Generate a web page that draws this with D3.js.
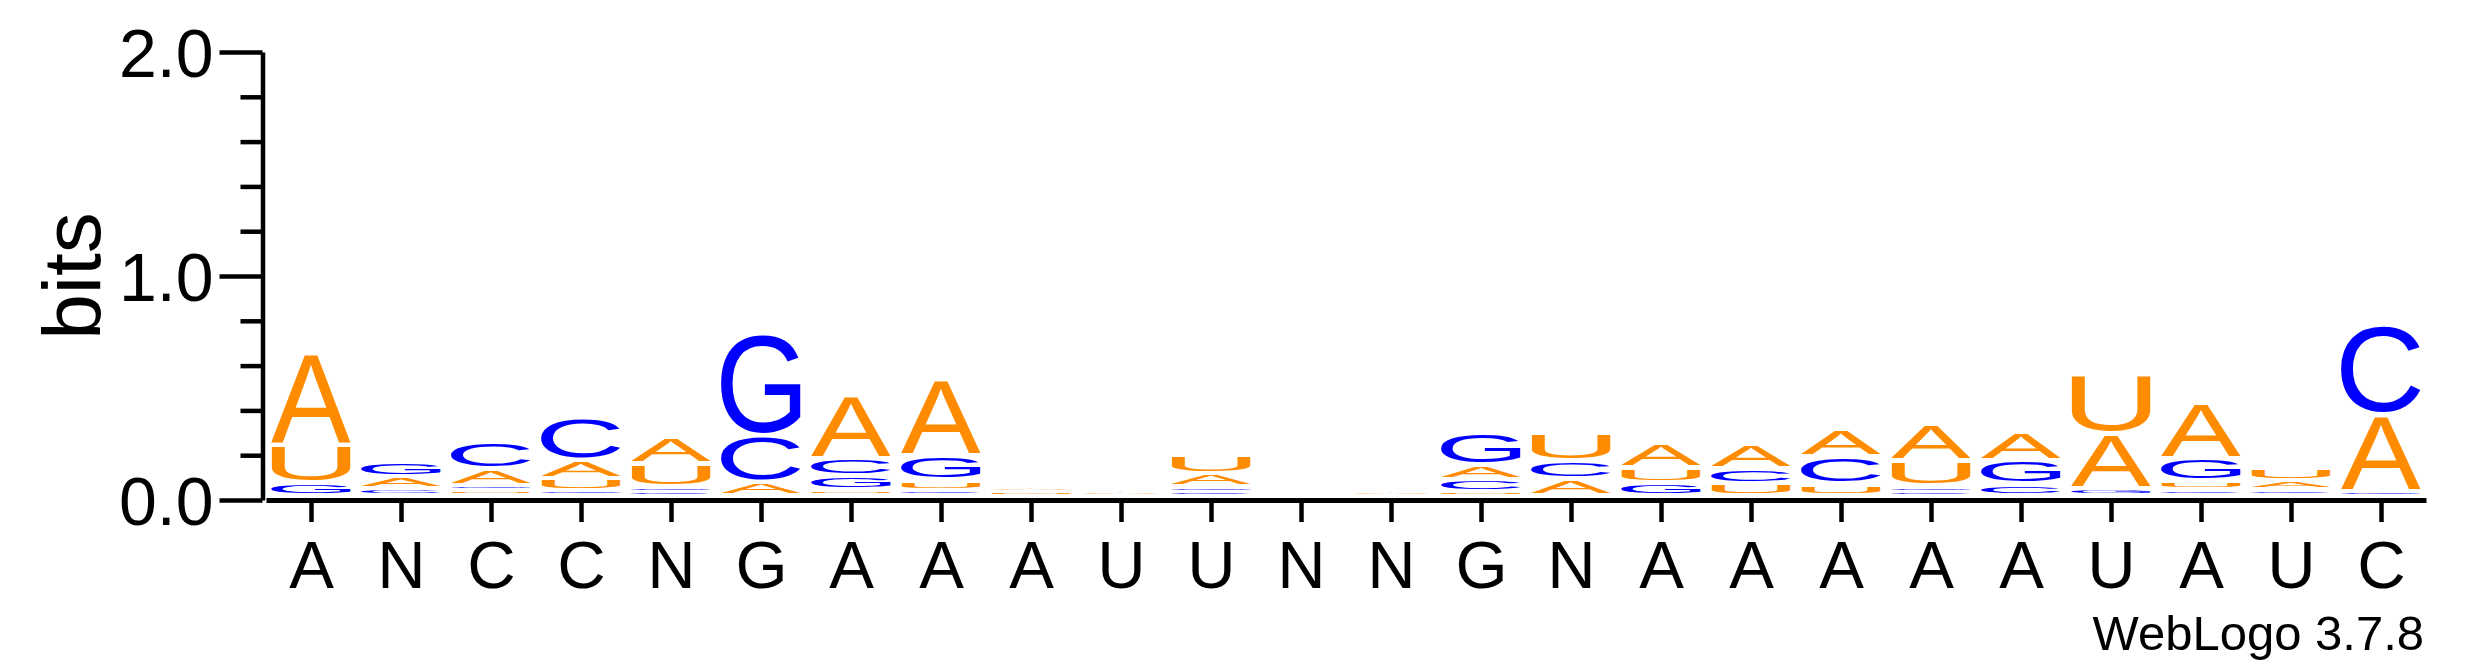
<!DOCTYPE html>
<html><head><meta charset="utf-8">
<script src="https://cdn.jsdelivr.net/npm/d3@7"></script>
<style>html,body{margin:0;padding:0;background:#fff;} svg{display:block;}</style>
</head><body>
<svg id="chart" width="2475" height="667"></svg>
<script>
// ---- data ----
const positions = ["A","N","C","C","N","G","A","A","A","U","U","N","N","G","N","A","A","A","A","A","U","A","U","C"];
const valuesA = [0.406,0.053,0.073,0.084,0.117,0.060,0.283,0.341,0.018,0.012,0.058,0,0.016,0.066,0.072,0.110,0.110,0.124,0.162,0.130,0.245,0.248,0.040,0.342];
const valuesC = [0,0.031,0.117,0.189,0.016,0.205,0.077,0.022,0,0,0.015,0,0,0.054,0.081,0,0.068,0.122,0.015,0.051,0,0.025,0.027,0.402];
const valuesG = [0.056,0.065,0.025,0.020,0.022,0.454,0.062,0.110,0,0,0.024,0,0,0.145,0,0.056,0,0,0.026,0.105,0.030,0.099,0,0.018];
const valuesU = [0.169,0,0.020,0.053,0.102,0,0.025,0.045,0.014,0,0.086,0,0,0.016,0.124,0.066,0.053,0.051,0.114,0,0.262,0.038,0.055,0];
const yTicks = [0, 1, 2];
const yMinorTicks = [0.2,0.4,0.6,0.8,1.2,1.4,1.6,1.8];
const yAxisTitle = "bits";
const footnote = "WebLogo 3.7.8";
const bases = ["A","C","G","U"];
const baseColors = {A:"#FF8C00", U:"#FF8C00", C:"#0000FF", G:"#0000FF"};
const series = {A: valuesA, C: valuesC, G: valuesG, U: valuesU};

// ---- drawing ----
const FONT = "'Liberation Sans', Arial, Helvetica, sans-serif";
const svg = d3.select("#chart");
svg.append("rect").attr("width",2475).attr("height",667).attr("fill","#fff");

const x = d3.scalePoint().domain(d3.range(positions.length)).range([266, 2426]).padding(0.5);
const y = d3.scaleLinear().domain([0, 2]).range([500, 52]);
const stackOffset = 5;
const letterW = x.step() * 0.889;
const gap = 4.5;

const ctx = document.createElement("canvas").getContext("2d");
ctx.font = "100px 'Liberation Sans'";
const metrics = {};
bases.forEach(b => {
  const m = ctx.measureText(b);
  metrics[b] = {l: m.actualBoundingBoxLeft, r: m.actualBoundingBoxRight, a: m.actualBoundingBoxAscent, d: m.actualBoundingBoxDescent};
});

const gStacks = svg.append("g");
positions.forEach((p, i) => {
  const entries = bases.map(b => ({b, v: series[b][i]})).filter(e => e.v > 0).sort((a, b) => a.v - b.v);
  let cum = 0;
  const xl = x(i) - letterW / 2;
  entries.forEach(e => {
    const yb = y(cum) - stackOffset;
    const yt = y(cum + e.v) - stackOffset;
    cum += e.v;
    const h = yb - yt;
    const dh = Math.max(h - gap, h * 0.28);
    const top = yt + (h - dh) / 2;
    const m = metrics[e.b];
    const sx = letterW / (m.l + m.r);
    const sy = dh / (m.a + m.d);
    gStacks.append("text")
      .attr("transform", `translate(${xl + m.l * sx},${top + m.a * sy}) scale(${sx},${sy})`)
      .attr("font-family", FONT)
      .attr("font-size", 100)
      .attr("fill", baseColors[e.b])
      .text(e.b);
  });
});

// y axis
const yAxisG = svg.append("g").attr("transform", "translate(262.5,0)")
  .call(d3.axisLeft(y).tickValues(yTicks).tickSize(43).tickSizeOuter(0).tickPadding(6).tickFormat(d3.format(".1f")));
yAxisG.select(".domain").attr("stroke-width", 4.5);
yAxisG.selectAll(".tick line").attr("stroke-width", 4.5);
yAxisG.selectAll(".tick text").attr("font-family", FONT).attr("font-size", 68).attr("dy", "0.36em").attr("fill", "#000");

const yMinorG = svg.append("g").attr("transform", "translate(262.5,0)")
  .call(d3.axisLeft(y).tickValues(yMinorTicks).tickSize(22).tickSizeOuter(0).tickFormat(""));
yMinorG.select(".domain").remove();
yMinorG.selectAll(".tick line").attr("stroke-width", 4.5);

// x axis
const xAxisG = svg.append("g").attr("transform", "translate(0,500)")
  .call(d3.axisBottom(x).tickSize(22).tickSizeOuter(0).tickPadding(18).tickFormat(i => positions[i]));
xAxisG.select(".domain").attr("stroke-width", 5);
xAxisG.selectAll(".tick line").attr("stroke-width", 4.5);
xAxisG.selectAll(".tick text").attr("font-family", FONT).attr("font-size", 67).attr("fill", "#000");

// y title
svg.append("text")
  .attr("transform", "translate(100,276) rotate(-90)")
  .attr("text-anchor", "middle")
  .attr("font-family", FONT).attr("font-size", 82)
  .text(yAxisTitle);

// footnote
svg.append("text")
  .attr("x", 2424).attr("y", 650)
  .attr("text-anchor", "end")
  .attr("font-family", FONT).attr("font-size", 49)
  .text(footnote);
</script>
</body></html>
